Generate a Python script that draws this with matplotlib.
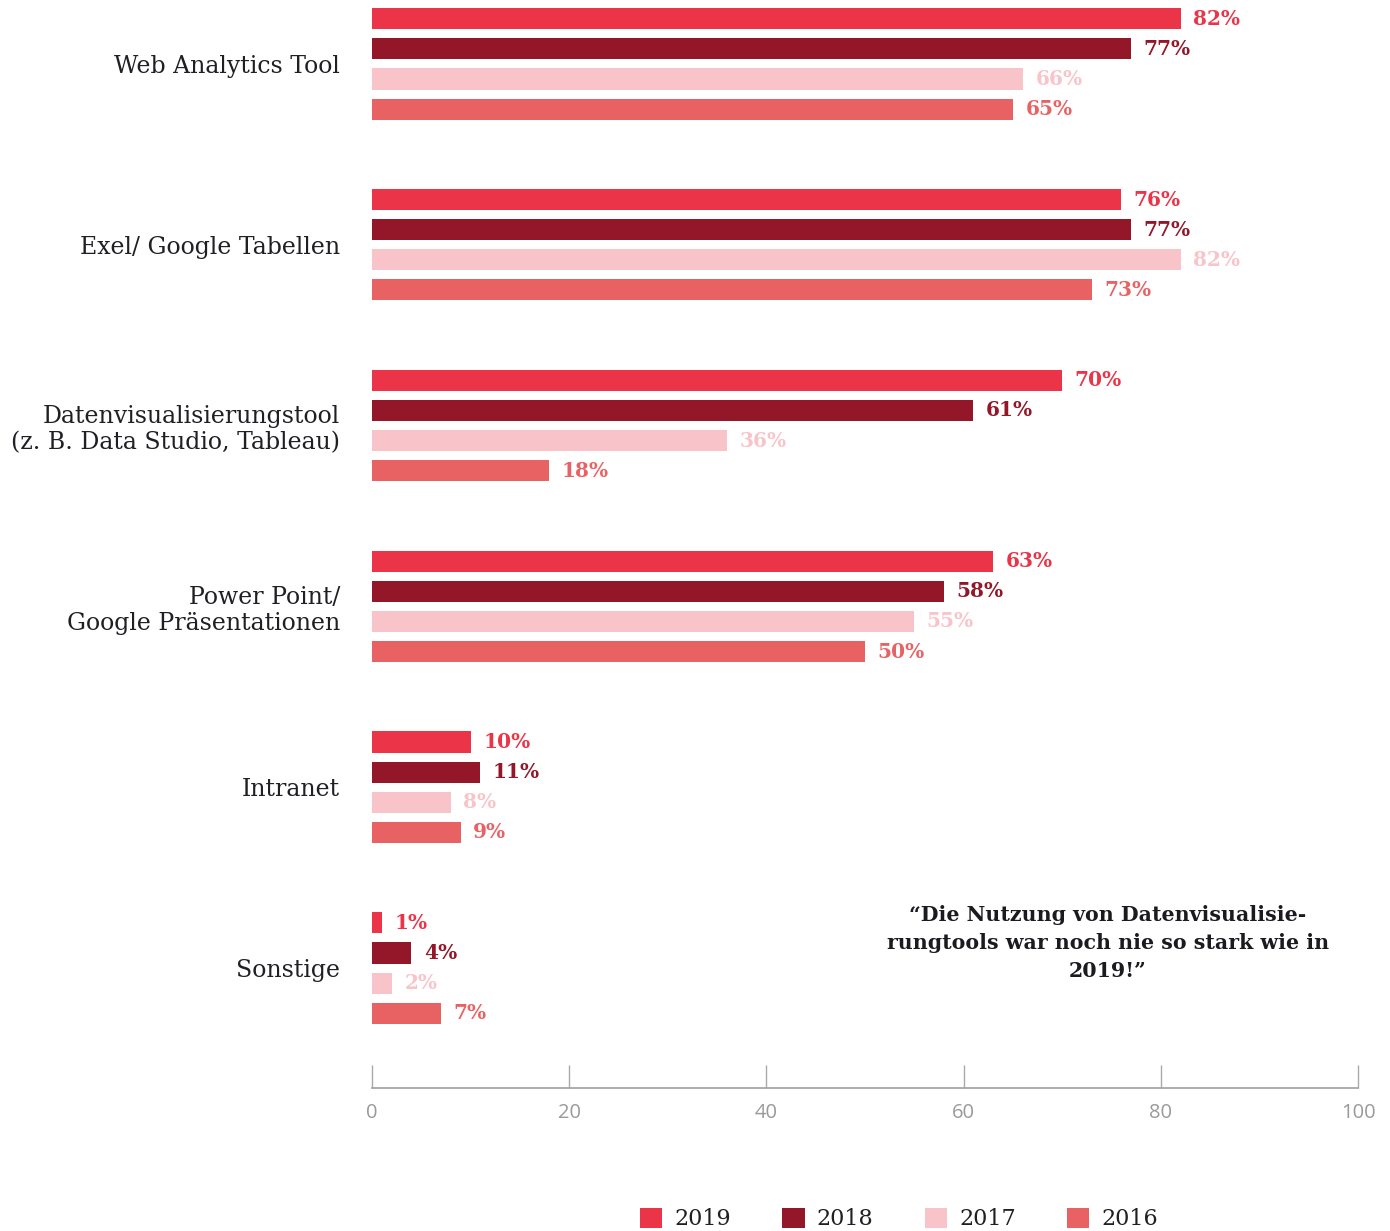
import matplotlib
matplotlib.use("Agg")
import matplotlib.pyplot as plt
from matplotlib.patches import Patch

# Data
categories = [
    "Web Analytics Tool",
    "Exel/ Google Tabellen",
    "Datenvisualisierungstool\n(z. B. Data Studio, Tableau)",
    "Power Point/\nGoogle Präsentationen",
    "Intranet",
    "Sonstige",
]
years = ["2019", "2018", "2017", "2016"]
values_2019 = [82, 76, 70, 63, 10, 1]
values_2018 = [77, 77, 61, 58, 11, 4]
values_2017 = [66, 82, 36, 55, 8, 2]
values_2016 = [65, 73, 18, 50, 9, 7]
x_ticks = [0, 20, 40, 60, 80, 100]
quote = "“Die Nutzung von Datenvisualisie-\nrungtools war noch nie so stark wie in\n2019!”"

series = [values_2019, values_2018, values_2017, values_2016]
colors = ["#EB3447", "#931729", "#F8C4CA", "#E86264"]

W, H = 1390, 1231
fig = plt.figure(figsize=(W / 100, H / 100), dpi=100)
ax = fig.add_axes([372 / W, 1 - 1088 / H, (1358 - 372) / W, 1088 / H])

serif = ["DejaVu Serif"]
group_gap = 6.0
offsets = [-1.5, -0.5, 0.5, 1.5]
bar_h = 0.7

for s, (vals, col, off) in enumerate(zip(series, colors, offsets)):
    ys = [i * group_gap + off for i in range(len(categories))]
    ax.barh(ys, vals, height=bar_h, color=col, edgecolor="none")
    for y, v in zip(ys, vals):
        ax.annotate(f"{v}%", xy=(v, y), xytext=(9, 0), textcoords="offset points",
                    ha="left", va="center", fontsize=14.5, fontweight="bold",
                    family=serif, color=col)

centers = [i * group_gap for i in range(len(categories))]
ax.set_yticks(centers)
ax.set_yticklabels(categories, family=serif, fontsize=17, color="#1f1f24",
                   linespacing=1.15)
ax.tick_params(axis="y", length=0, pad=23)

ax.set_ylim(33.98, -2.12)
ax.set_xlim(0, 100)
ax.set_xticks(x_ticks)
ax.set_xticklabels([str(t) for t in x_ticks], family=["Open Sans", "DejaVu Sans"],
                   fontsize=14.5, color="#9a9a9a")
ax.tick_params(axis="x", direction="in", length=16.5, width=1, color="#aaaaaa", pad=11)

for side in ["top", "right", "left"]:
    ax.spines[side].set_visible(False)
ax.spines["bottom"].set_color("#a0a0a0")
ax.spines["bottom"].set_linewidth(1.2)

# Quote text
fig.text(1108 / W, 1 - 943 / H, quote, ha="center", va="center", family=serif,
         fontsize=14.8, fontweight="bold", color="#1a1a1f", linespacing=1.5)

# Legend
handles = [Patch(facecolor=c, edgecolor="none") for c in colors]
fig.legend(handles, years, loc="center", bbox_to_anchor=(899 / W, 1 - 1219 / H),
           ncol=4, frameon=False, prop={"family": serif, "size": 16},
           handlelength=1.0, handleheight=1.0, handletextpad=0.55,
           columnspacing=2.3, labelcolor="#1f1f24")

fig.savefig("out.png", dpi=100)
